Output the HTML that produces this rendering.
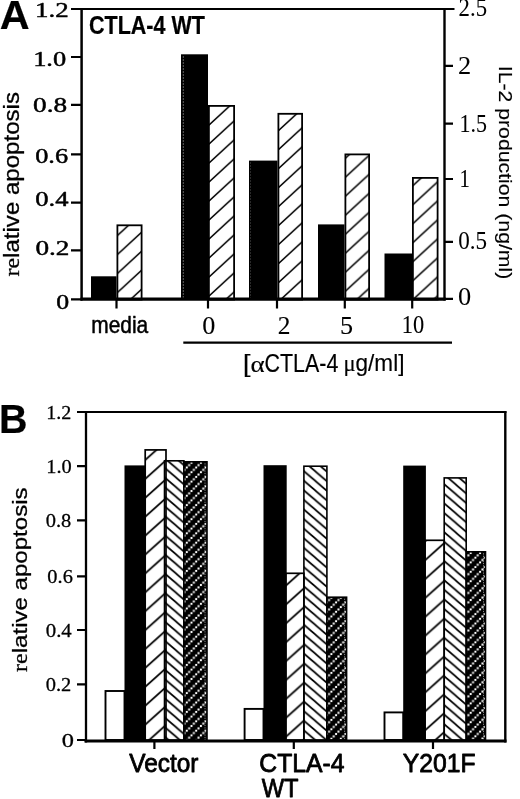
<!DOCTYPE html>
<html><head><meta charset="utf-8">
<style>
html,body{margin:0;padding:0;background:#fff;width:520px;height:799px;overflow:hidden}
svg{display:block;filter:grayscale(1)}
.sr{font-family:"Liberation Serif",serif}
.ss{font-family:"Liberation Sans",sans-serif}
text{fill:#000}
</style></head><body>
<svg width="520" height="799" viewBox="0 0 520 799">
<defs><pattern id="hA0" patternUnits="userSpaceOnUse" x="142" y="231.9" width="20.65" height="19"><path d="M-20.65,38 L41.3,-19 M-41.3,38 L20.65,-19 M0,38 L61.96,-19" stroke="#000" stroke-width="1.55" fill="none"/></pattern><pattern id="hA1" patternUnits="userSpaceOnUse" x="209" y="125" width="20.65" height="19"><path d="M-20.65,38 L41.3,-19 M-41.3,38 L20.65,-19 M0,38 L61.96,-19" stroke="#000" stroke-width="1.55" fill="none"/></pattern><pattern id="hA2" patternUnits="userSpaceOnUse" x="278" y="226" width="20.65" height="19"><path d="M-20.65,38 L41.3,-19 M-41.3,38 L20.65,-19 M0,38 L61.96,-19" stroke="#000" stroke-width="1.55" fill="none"/></pattern><pattern id="hA3" patternUnits="userSpaceOnUse" x="345" y="177.5" width="20.65" height="19"><path d="M-20.65,38 L41.3,-19 M-41.3,38 L20.65,-19 M0,38 L61.96,-19" stroke="#000" stroke-width="1.55" fill="none"/></pattern><pattern id="hA4" patternUnits="userSpaceOnUse" x="413" y="185.5" width="20.65" height="19"><path d="M-20.65,38 L41.3,-19 M-41.3,38 L20.65,-19 M0,38 L61.96,-19" stroke="#000" stroke-width="1.55" fill="none"/></pattern><pattern id="hBs0" patternUnits="userSpaceOnUse" x="146.2" y="478.1" width="21" height="18.9"><path d="M-21,37.8 L42,-18.9 M-42,37.8 L21,-18.9 M0,37.8 L63,-18.9" stroke="#000" stroke-width="1.7" fill="none"/></pattern><pattern id="hBs1" patternUnits="userSpaceOnUse" x="285.5" y="586" width="21" height="18.9"><path d="M-21,37.8 L42,-18.9 M-42,37.8 L21,-18.9 M0,37.8 L63,-18.9" stroke="#000" stroke-width="1.7" fill="none"/></pattern><pattern id="hBs2" patternUnits="userSpaceOnUse" x="425.5" y="559.9" width="21" height="18.9"><path d="M-21,37.8 L42,-18.9 M-42,37.8 L21,-18.9 M0,37.8 L63,-18.9" stroke="#000" stroke-width="1.7" fill="none"/></pattern><pattern id="hBb0" patternUnits="userSpaceOnUse" x="165.5" y="478.1" width="11.16" height="9.6"><path d="M-11.16,-9.6 L22.33,19.2 M-22.33,-9.6 L11.16,19.2 M0,-9.6 L33.49,19.2" stroke="#000" stroke-width="1.7" fill="none"/></pattern><pattern id="hBb1" patternUnits="userSpaceOnUse" x="304.6" y="471.7" width="11.16" height="9.6"><path d="M-11.16,-9.6 L22.33,19.2 M-22.33,-9.6 L11.16,19.2 M0,-9.6 L33.49,19.2" stroke="#000" stroke-width="1.7" fill="none"/></pattern><pattern id="hBb2" patternUnits="userSpaceOnUse" x="445.2" y="485" width="11.16" height="9.6"><path d="M-11.16,-9.6 L22.33,19.2 M-22.33,-9.6 L11.16,19.2 M0,-9.6 L33.49,19.2" stroke="#000" stroke-width="1.7" fill="none"/></pattern><pattern id="hBd0" patternUnits="userSpaceOnUse" x="186.8" y="476.9" width="9.4" height="9.4"><rect width="9.4" height="9.4" fill="#000"/><rect x="-1" y="-1" width="2.0" height="2.0" fill="#fff"/><rect x="1.35" y="6.05" width="2.0" height="2.0" fill="#fff"/><rect x="3.7" y="3.7" width="2.0" height="2.0" fill="#fff"/><rect x="6.05" y="1.35" width="2.0" height="2.0" fill="#fff"/><rect x="8.4" y="-1" width="2.0" height="2.0" fill="#fff"/><rect x="-1" y="8.4" width="2.0" height="2.0" fill="#fff"/><rect x="8.4" y="8.4" width="2.0" height="2.0" fill="#fff"/></pattern><pattern id="hBd1" patternUnits="userSpaceOnUse" x="326.7" y="621.2" width="9.4" height="9.4"><rect width="9.4" height="9.4" fill="#000"/><rect x="-1" y="-1" width="2.0" height="2.0" fill="#fff"/><rect x="1.35" y="6.05" width="2.0" height="2.0" fill="#fff"/><rect x="3.7" y="3.7" width="2.0" height="2.0" fill="#fff"/><rect x="6.05" y="1.35" width="2.0" height="2.0" fill="#fff"/><rect x="8.4" y="-1" width="2.0" height="2.0" fill="#fff"/><rect x="-1" y="8.4" width="2.0" height="2.0" fill="#fff"/><rect x="8.4" y="8.4" width="2.0" height="2.0" fill="#fff"/></pattern><pattern id="hBd2" patternUnits="userSpaceOnUse" x="466" y="557.7" width="9.4" height="9.4"><rect width="9.4" height="9.4" fill="#000"/><rect x="-1" y="-1" width="2.0" height="2.0" fill="#fff"/><rect x="1.35" y="6.05" width="2.0" height="2.0" fill="#fff"/><rect x="3.7" y="3.7" width="2.0" height="2.0" fill="#fff"/><rect x="6.05" y="1.35" width="2.0" height="2.0" fill="#fff"/><rect x="8.4" y="-1" width="2.0" height="2.0" fill="#fff"/><rect x="-1" y="8.4" width="2.0" height="2.0" fill="#fff"/><rect x="8.4" y="8.4" width="2.0" height="2.0" fill="#fff"/></pattern></defs>
<rect width="520" height="799" fill="#fff"/>
<rect x="91" y="276.3" width="25.5" height="22.4" fill="#000"/>
<rect x="181" y="54.3" width="27" height="244.4" fill="#000"/>
<rect x="249" y="160.6" width="28.5" height="138.1" fill="#000"/>
<rect x="318" y="224.4" width="26.5" height="74.3" fill="#000"/>
<rect x="384.5" y="253.5" width="27.5" height="45.2" fill="#000"/>
<rect x="117.4" y="225.3" width="24.2" height="74.3" fill="url(#hA0)" stroke="#000" stroke-width="1.8"/>
<rect x="208.9" y="105.9" width="25.2" height="193.7" fill="url(#hA1)" stroke="#000" stroke-width="1.8"/>
<rect x="278.4" y="113.8" width="23.7" height="185.8" fill="url(#hA2)" stroke="#000" stroke-width="1.8"/>
<rect x="345.4" y="154.4" width="23.7" height="145.2" fill="url(#hA3)" stroke="#000" stroke-width="1.8"/>
<rect x="412.9" y="177.9" width="24.7" height="121.7" fill="url(#hA4)" stroke="#000" stroke-width="1.8"/>
<path d="M183.3,56V298" stroke="#777" stroke-width="0.8" stroke-dasharray="2 1"/>
<path d="M250.5,162V298" stroke="#333" stroke-width="0.8" stroke-dasharray="2 1"/>
<path d="M71,9H454.5" stroke="#000" stroke-width="2.1" fill="none"/>
<path d="M81.6,8V300.5" stroke="#000" stroke-width="2.5" fill="none"/>
<path d="M444.5,8V300.5" stroke="#000" stroke-width="2.4" fill="none"/>
<path d="M80.5,299.1H445.7" stroke="#000" stroke-width="3.3" fill="none"/>
<path d="M71,57H81M71,104.8H81M71,154.4H81M71,202.6H81M71,250.3H81M71,299.4H82" stroke="#000" stroke-width="2.2" fill="none"/>
<path d="M444,65.8H453M444,123.7H453M444,179H453M444,241.9H453M444,298.8H453" stroke="#000" stroke-width="2.2" fill="none"/>
<path d="M116.5,299V308.5M208,299V308.5M277,299V308.5M344.8,299V308.5M412.2,299V308.5" stroke="#000" stroke-width="2.2" fill="none"/>
<path d="M183.3,342.6H452" stroke="#000" stroke-width="2.2" fill="none"/>
<rect x="105.5" y="691" width="19" height="49" fill="#fff" stroke="#000" stroke-width="1.9"/>
<rect x="124.5" y="465.4" width="21.5" height="274.6" fill="#000"/>
<rect x="145.2" y="449.9" width="20.8" height="290.1" fill="url(#hBs0)" stroke="#000" stroke-width="1.7"/>
<rect x="164.5" y="460.8" width="19.4" height="279.2" fill="url(#hBb0)" stroke="#000" stroke-width="1.6"/>
<rect x="183.9" y="461.8" width="23.1" height="278.2" fill="url(#hBd0)" stroke="#000" stroke-width="1.6"/>
<path d="M205,463.3V740" stroke="#999" stroke-width="0.9" stroke-dasharray="1.2 1.2"/>
<rect x="244.6" y="708.9" width="18.9" height="31.1" fill="#fff" stroke="#000" stroke-width="1.9"/>
<rect x="263.5" y="465.2" width="23.2" height="274.8" fill="#000"/>
<rect x="285.8" y="573.3" width="18.1" height="166.7" fill="url(#hBs1)" stroke="#000" stroke-width="1.7"/>
<rect x="303.9" y="466.2" width="23" height="273.8" fill="url(#hBb1)" stroke="#000" stroke-width="1.6"/>
<rect x="326.9" y="597.2" width="19.7" height="142.8" fill="url(#hBd1)" stroke="#000" stroke-width="1.6"/>
<path d="M344.6,598.7V740" stroke="#999" stroke-width="0.9" stroke-dasharray="1.2 1.2"/>
<rect x="384.5" y="712.4" width="18.7" height="27.6" fill="#fff" stroke="#000" stroke-width="1.9"/>
<rect x="403.2" y="465.6" width="22.7" height="274.4" fill="#000"/>
<rect x="425" y="540.3" width="19.2" height="199.7" fill="url(#hBs2)" stroke="#000" stroke-width="1.7"/>
<rect x="444.2" y="477.9" width="22" height="262.1" fill="url(#hBb2)" stroke="#000" stroke-width="1.6"/>
<rect x="466.2" y="551.8" width="19.3" height="188.2" fill="url(#hBd2)" stroke="#000" stroke-width="1.6"/>
<path d="M483.5,553.3V740" stroke="#999" stroke-width="0.9" stroke-dasharray="1.2 1.2"/>
<path d="M77,412H506.5" stroke="#000" stroke-width="2.1" fill="none"/>
<path d="M86,411V742.5" stroke="#000" stroke-width="2.3" fill="none"/>
<path d="M505.3,411.3V742.5" stroke="#000" stroke-width="2.4" fill="none"/>
<path d="M84.5,741H506.5" stroke="#000" stroke-width="3.0" fill="none"/>
<path d="M77,466.2H86M77,520.4H86M77,576.3H86M77,630H86M77,684.4H86M77,740H86" stroke="#000" stroke-width="2.2" fill="none"/>
<path d="M154.4,741V749M293.8,741V749M433,741V749" stroke="#000" stroke-width="2.2" fill="none"/>
<g id="tA" transform="matrix(1.0615 0 0 1.0296 -276.26 -383.05)"><text class="ss" font-size="39" font-weight="bold" stroke="#000" stroke-width="0.2" stroke-linejoin="round" transform="translate(260,400) rotate(0)">A</text></g>
<g id="tCT" transform="matrix(1.0250 0 0 1.1929 -177.53 -443.64)"><text class="ss" font-size="21" font-weight="bold" stroke="#000" stroke-width="0.2" stroke-linejoin="round" transform="translate(260,400) rotate(0)">CTLA-4 WT</text></g>
<g id="aL12" transform="matrix(1.3455 0 0 1.0643 -314.81 -408.91)"><text class="sr" font-size="20" font-weight="normal" stroke="#000" stroke-width="0.45" stroke-linejoin="round" transform="translate(260,400) rotate(0)">1.2</text></g>
<g id="aL10" transform="matrix(1.3217 0 0 1.0857 -310.50 -368.69)"><text class="sr" font-size="20" font-weight="normal" stroke="#000" stroke-width="0.45" stroke-linejoin="round" transform="translate(260,400) rotate(0)">1.0</text></g>
<g id="aL08" transform="matrix(1.3625 0 0 1.0429 -321.15 -304.84)"><text class="sr" font-size="20" font-weight="normal" stroke="#000" stroke-width="0.45" stroke-linejoin="round" transform="translate(260,400) rotate(0)">0.8</text></g>
<g id="aL06" transform="matrix(1.3160 0 0 1.0500 -306.96 -256.80)"><text class="sr" font-size="20" font-weight="normal" stroke="#000" stroke-width="0.45" stroke-linejoin="round" transform="translate(260,400) rotate(0)">0.6</text></g>
<g id="aL04" transform="matrix(1.3320 0 0 1.0500 -311.12 -214.30)"><text class="sr" font-size="20" font-weight="normal" stroke="#000" stroke-width="0.45" stroke-linejoin="round" transform="translate(260,400) rotate(0)">0.4</text></g>
<g id="aL02" transform="matrix(1.3625 0 0 1.0500 -318.85 -165.00)"><text class="sr" font-size="20" font-weight="normal" stroke="#000" stroke-width="0.45" stroke-linejoin="round" transform="translate(260,400) rotate(0)">0.2</text></g>
<g id="aL00" transform="matrix(1.2900 0 0 1.0714 -279.10 -119.77)"><text class="sr" font-size="20" font-weight="normal" stroke="#000" stroke-width="0.45" stroke-linejoin="round" transform="translate(260,400) rotate(0)">0</text></g>
<g id="aR25" transform="matrix(1.0346 0 0 1.1214 189.57 -432.07)"><text class="sr" font-size="22" font-weight="normal" stroke="#000" stroke-width="0.05" stroke-linejoin="round" transform="translate(260,400) rotate(0)">2.5</text></g>
<g id="aR20" transform="matrix(1.2000 0 0 1.1214 146.00 -374.77)"><text class="sr" font-size="22" font-weight="normal" stroke="#000" stroke-width="0.05" stroke-linejoin="round" transform="translate(260,400) rotate(0)">2</text></g>
<g id="aR15" transform="matrix(1.0000 0 0 1.1500 199.50 -328.40)"><text class="sr" font-size="22" font-weight="normal" stroke="#000" stroke-width="0.05" stroke-linejoin="round" transform="translate(260,400) rotate(0)">1.5</text></g>
<g id="aR10" transform="matrix(0.9429 0 0 1.1214 214.47 -261.67)"><text class="sr" font-size="22" font-weight="normal" stroke="#000" stroke-width="0.05" stroke-linejoin="round" transform="translate(260,400) rotate(0)">1</text></g>
<g id="aR05" transform="matrix(1.0500 0 0 1.1571 185.15 -213.66)"><text class="sr" font-size="22" font-weight="normal" stroke="#000" stroke-width="0.05" stroke-linejoin="round" transform="translate(260,400) rotate(0)">0.5</text></g>
<g id="aR00" transform="matrix(1.2000 0 0 1.1786 146.00 -166.63)"><text class="sr" font-size="22" font-weight="normal" stroke="#000" stroke-width="0.05" stroke-linejoin="round" transform="translate(260,400) rotate(0)">0</text></g>
<g id="aXm" transform="matrix(0.9964 0 0 1.1333 -167.77 -120.63)"><text class="ss" font-size="21" font-weight="normal" stroke="#000" stroke-width="0.45" stroke-linejoin="round" transform="translate(260,400) rotate(0)">media</text></g>
<g id="aX0" transform="matrix(1.1889 0 0 1.1500 -106.80 -126.10)"><text class="sr" font-size="22" font-weight="normal" stroke="#000" stroke-width="0.1" stroke-linejoin="round" transform="translate(260,400) rotate(0)">0</text></g>
<g id="aX2" transform="matrix(1.1556 0 0 1.1214 -22.80 -114.67)"><text class="sr" font-size="22" font-weight="normal" stroke="#000" stroke-width="0.1" stroke-linejoin="round" transform="translate(260,400) rotate(0)">2</text></g>
<g id="aX5" transform="matrix(1.1889 0 0 1.1214 30.90 -114.67)"><text class="sr" font-size="22" font-weight="normal" stroke="#000" stroke-width="0.1" stroke-linejoin="round" transform="translate(260,400) rotate(0)">5</text></g>
<g id="aX10" transform="matrix(1.0158 0 0 1.1286 137.66 -118.63)"><text class="sr" font-size="22" font-weight="normal" stroke="#000" stroke-width="0.1" stroke-linejoin="round" transform="translate(260,400) rotate(0)">10</text></g>
<g id="aXl1" transform="matrix(1.2867 0 0 1.1105 -91.52 -72.25)"><text class="ss" font-size="21" font-weight="normal" stroke="#000" stroke-width="0.15" stroke-linejoin="round" transform="translate(260,400) rotate(0)">[<tspan class="sr">α</tspan></text></g>
<g id="aXl2" transform="matrix(0.9743 0 0 1.1533 11.20 -89.53)"><text class="ss" font-size="22" font-weight="normal" stroke="#000" stroke-width="0.15" stroke-linejoin="round" transform="translate(260,400) rotate(0)">CTLA-4</text></g>
<g id="aXl3" transform="matrix(1.0736 0 0 1.0950 64.32 -66.57)"><text class="ss" font-size="21" font-weight="normal" stroke="#000" stroke-width="0.15" stroke-linejoin="round" transform="translate(260,400) rotate(0)"><tspan class="sr">μ</tspan>g/ml]</text></g>
<g id="aYl" transform="matrix(0.9810 0 0 1.0940 -235.95 -161.02)"><text class="ss" font-size="22" font-weight="normal" stroke="#000" stroke-width="0.3" stroke-linejoin="round" transform="translate(260,400) rotate(-90)"><tspan class="sr">re</tspan>lative apoptosis</text></g>
<g id="aYr" transform="matrix(0.9632 0 0 1.0616 248.43 -358.87)"><text class="ss" font-size="20" font-weight="normal" stroke="#000" stroke-width="0.15" stroke-linejoin="round" transform="translate(260,400) rotate(90)">IL-2 production (ng/ml)</text></g>
<g id="tB" transform="matrix(1.0104 0 0 1.0407 -263.58 16.40)"><text class="ss" font-size="39" font-weight="bold" stroke="#000" stroke-width="0.2" stroke-linejoin="round" transform="translate(260,400) rotate(0)">B</text></g>
<g id="bL12" transform="matrix(1.1150 0 0 1.0000 -243.63 18.80)"><text class="sr" font-size="18" font-weight="normal" stroke="#000" stroke-width="0.25" stroke-linejoin="round" transform="translate(260,400) rotate(0)">1.2</text></g>
<g id="bL10" transform="matrix(1.1350 0 0 1.0385 -248.87 57.32)"><text class="sr" font-size="18" font-weight="normal" stroke="#000" stroke-width="0.25" stroke-linejoin="round" transform="translate(260,400) rotate(0)">1.0</text></g>
<g id="bL08" transform="matrix(1.1381 0 0 1.0615 -250.14 102.18)"><text class="sr" font-size="18" font-weight="normal" stroke="#000" stroke-width="0.25" stroke-linejoin="round" transform="translate(260,400) rotate(0)">0.8</text></g>
<g id="bL06" transform="matrix(1.1333 0 0 1.1000 -247.30 143.20)"><text class="sr" font-size="18" font-weight="normal" stroke="#000" stroke-width="0.25" stroke-linejoin="round" transform="translate(260,400) rotate(0)">0.6</text></g>
<g id="bL04" transform="matrix(1.1571 0 0 1.0692 -255.11 209.11)"><text class="sr" font-size="18" font-weight="normal" stroke="#000" stroke-width="0.25" stroke-linejoin="round" transform="translate(260,400) rotate(0)">0.4</text></g>
<g id="bL02" transform="matrix(1.1381 0 0 1.0692 -250.14 263.51)"><text class="sr" font-size="18" font-weight="normal" stroke="#000" stroke-width="0.25" stroke-linejoin="round" transform="translate(260,400) rotate(0)">0.2</text></g>
<g id="bL00" transform="matrix(1.3571 0 0 1.0615 -291.11 321.98)"><text class="sr" font-size="18" font-weight="normal" stroke="#000" stroke-width="0.25" stroke-linejoin="round" transform="translate(260,400) rotate(0)">0</text></g>
<g id="bYl" transform="matrix(0.9286 0 0 1.0946 -214.07 234.14)"><text class="ss" font-size="22" font-weight="normal" stroke="#000" stroke-width="0.3" stroke-linejoin="round" transform="translate(260,400) rotate(-90)"><tspan class="sr">re</tspan>lative apoptosis</text></g>
<g id="bXv" transform="matrix(1.0176 0 0 1.0588 -135.29 348.27)"><text class="ss" font-size="24" font-weight="normal" stroke="#000" stroke-width="0.75" stroke-linejoin="round" transform="translate(260,400) rotate(0)">Vector</text></g>
<g id="bXc" transform="matrix(1.0296 0 0 1.0706 -8.33 343.66)"><text class="ss" font-size="24" font-weight="normal" stroke="#000" stroke-width="0.75" stroke-linejoin="round" transform="translate(260,400) rotate(0)">CTLA-4</text></g>
<g id="bXw" transform="matrix(0.9892 0 0 1.0765 4.51 366.41)"><text class="ss" font-size="24" font-weight="normal" stroke="#000" stroke-width="0.75" stroke-linejoin="round" transform="translate(260,400) rotate(0)">WT</text></g>
<g id="bXy" transform="matrix(1.0300 0 0 1.0529 134.90 350.52)"><text class="ss" font-size="24" font-weight="normal" stroke="#000" stroke-width="0.75" stroke-linejoin="round" transform="translate(260,400) rotate(0)">Y201F</text></g>
</svg>
</body></html>
